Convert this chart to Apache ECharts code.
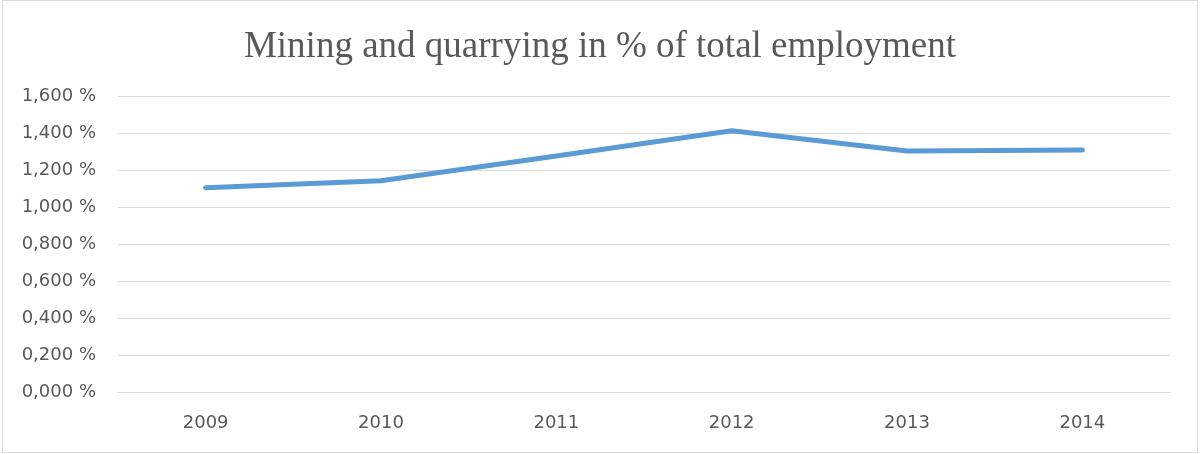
<!DOCTYPE html>
<html><head><meta charset="utf-8">
<script src="https://cdn.jsdelivr.net/npm/echarts@6/dist/echarts.min.js"></script>
<style>html,body{margin:0;padding:0;background:#fff}#c{width:1200px;height:454px}</style>
</head><body><div id="c"></div>
<script>
const title = 'Mining and quarrying in % of total employment';
const categories = ['2009','2010','2011','2012','2013','2014'];
const values = [1.105, 1.143, 1.276, 1.413, 1.303, 1.309];
const yMin = 0, yMax = 1.6, yStep = 0.2;

const chart = echarts.init(document.getElementById('c'), null, {renderer:'canvas'});
chart.setOption({
  animation:false,
  backgroundColor:'#fff',
  graphic:[{type:'rect',shape:{x:2.5,y:0.5,width:1195,height:452},style:{fill:'none',stroke:'#d9d9d9',lineWidth:1},silent:true}],
  title:{text:title,left:'center',top:24,textStyle:{fontFamily:'Liberation Serif',fontWeight:'normal',fontSize:37,color:'#595959'}},
  grid:{left:118,right:30,top:96,bottom:61.5,containLabel:false},
  xAxis:{type:'category',data:categories,boundaryGap:true,
    axisLine:{show:true,lineStyle:{color:'#d9d9d9',width:1}},axisTick:{show:false},
    axisLabel:{color:'#595959',fontSize:18,fontFamily:'DejaVu Sans',margin:22}},
  yAxis:{type:'value',min:yMin,max:yMax,interval:yStep,
    axisLine:{show:false},axisTick:{show:false},
    splitLine:{lineStyle:{color:'#d9d9d9',width:1}},
    axisLabel:{color:'#595959',fontSize:18,fontFamily:'DejaVu Sans',margin:22,
      formatter:v=>v.toFixed(3).replace('.',',')+' %'}},
  series:[{type:'line',data:values,showSymbol:false,symbol:'none',
    lineStyle:{color:'#5B9BD5',width:5,cap:'round',join:'round'}}]
});
</script></body></html>
